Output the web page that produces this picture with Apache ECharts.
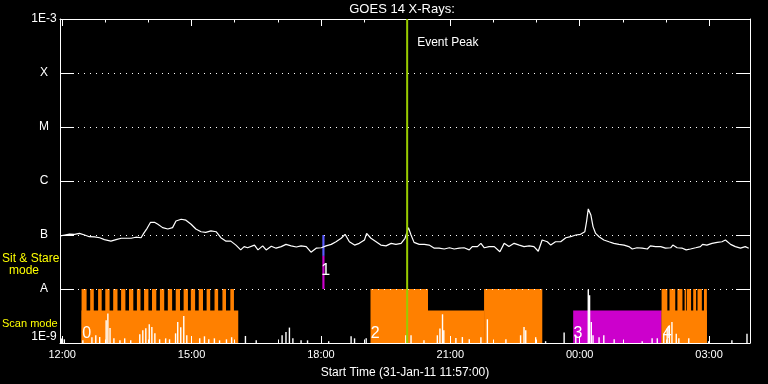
<!DOCTYPE html>
<html><head><meta charset="utf-8">
<script src="https://cdn.jsdelivr.net/npm/echarts@6/dist/echarts.min.js"></script>
<style>html,body{margin:0;padding:0;background:#000}#c{width:768px;height:384px}</style>
</head><body><div id="c"></div>
<script>
// ---------- data ----------
const chartTitle = 'GOES 14 X-Rays:';
const xAxisTitle = 'Start Time (31-Jan-11 11:57:00)';
const axisStartHour = 11.95;   // 11:57
const axisEndHour = 27.95;     // 03:57 next day
const majorTickHours = [12, 15, 18, 21, 24, 27];
const minorTickHours = [12, 13, 14, 15, 16, 17, 18, 19, 20, 21, 22, 23, 24, 25, 26, 27];
const fluxLevelLabels = {'-9': '1E-9', '-8': 'A', '-7': 'B', '-6': 'C', '-5': 'M', '-4': 'X', '-3': '1E-3'};

// GOES long channel (1-8 A), hours since 00:00 31-Jan
const longTime = [11.96,12.06,12.17,12.29,12.40,12.52,12.63,12.75,12.87,12.98,13.13,13.25,13.37,13.48,13.60,13.71,13.83,13.89,13.97,14.05,
14.14,14.22,14.33,14.45,14.56,14.64,14.76,14.87,14.99,15.10,15.22,15.33,15.45,15.57,15.68,15.80,15.91,16.03,16.14,16.22,
16.30,16.46,16.54,16.65,16.73,16.85,16.96,17.08,17.19,17.31,17.43,17.54,17.66,17.77,17.89,18.01,18.12,18.24,18.35,18.47,
18.56,18.66,18.78,18.89,19.01,19.06,19.16,19.28,19.39,19.51,19.63,19.74,19.86,19.95,20.03,20.09,20.16,20.28,20.40,20.51,
20.63,20.74,20.86,20.98,21.09,21.21,21.32,21.44,21.51,21.63,21.71,21.79,21.90,22.02,22.15,22.25,22.36,22.48,22.60,22.71,
22.83,22.94,23.04,23.13,23.25,23.33,23.44,23.56,23.68,23.79,23.91,24.02,24.12,24.16,24.20,24.26,24.31,24.37,24.45,24.56,
24.68,24.79,24.91,25.03,25.14,25.22,25.33,25.45,25.57,25.64,25.76,25.88,25.99,26.11,26.16,26.26,26.38,26.47,26.57,26.69,
26.80,26.85,26.95,27.07,27.19,27.30,27.38,27.50,27.61,27.73,27.84,27.92];
const longFlux = [9.6e-8,1.0e-7,1.04e-7,1.03e-7,1.07e-7,1.0e-7,9.3e-8,9.2e-8,8.9e-8,8.2e-8,7.7e-8,8.2e-8,8.7e-8,8.7e-8,8.7e-8,9.1e-8,8.9e-8,1.07e-7,1.33e-7,1.72e-7,
1.72e-7,1.58e-7,1.37e-7,1.29e-7,1.37e-7,1.82e-7,1.96e-7,1.88e-7,1.58e-7,1.29e-7,1.15e-7,1.12e-7,1.19e-7,1.15e-7,8.9e-8,7.7e-8,7.7e-8,6.5e-8,5.3e-8,6.1e-8,
5.8e-8,6.5e-8,5.3e-8,6.3e-8,5.3e-8,6.2e-8,5.7e-8,6.1e-8,6.7e-8,6.3e-8,6.0e-8,6.3e-8,6.1e-8,4.8e-8,5.7e-8,5.8e-8,6.3e-8,6.7e-8,7.5e-8,8.7e-8,
1.03e-7,7.5e-8,6.5e-8,7.0e-8,8.1e-8,1.07e-7,8.7e-8,7.5e-8,6.5e-8,6.3e-8,7.0e-8,6.7e-8,7.0e-8,8.7e-8,1.37e-7,1.0e-7,7.3e-8,6.7e-8,6.7e-8,6.5e-8,
5.7e-8,5.7e-8,5.5e-8,5.8e-8,5.5e-8,5.7e-8,5.8e-8,5.3e-8,6.1e-8,6.1e-8,7.0e-8,5.8e-8,6.1e-8,6.1e-8,4.9e-8,7.0e-8,6.1e-8,7.0e-8,6.5e-8,6.1e-8,
6.3e-8,6.1e-8,5.0e-8,8.1e-8,7.5e-8,6.5e-8,7.5e-8,7.5e-8,8.9e-8,9.3e-8,1.0e-7,1.03e-7,1.15e-7,1.77e-7,3.04e-7,2.35e-7,1.43e-7,1.07e-7,9.3e-8,8.1e-8,
7.5e-8,7.0e-8,6.7e-8,6.5e-8,6.1e-8,5.5e-8,5.8e-8,5.7e-8,5.5e-8,6.3e-8,6.1e-8,6.1e-8,5.7e-8,5.8e-8,6.5e-8,5.8e-8,5.7e-8,5.3e-8,5.5e-8,5.8e-8,
6.1e-8,6.7e-8,6.5e-8,7.0e-8,7.3e-8,7.5e-8,8.1e-8,6.7e-8,6.1e-8,5.7e-8,6.1e-8,5.7e-8];

// GOES short channel (0.5-4 A): only the samples rising above 1E-9
const shortTime = [11.98,12.05,12.48,12.69,12.78,12.87,13.02,13.06,13.11,13.20,13.34,13.45,13.59,13.80,13.87,13.94,14.02,14.08,14.15,14.26,
14.40,14.49,14.63,14.68,14.75,14.82,14.89,15.19,15.30,15.40,15.53,15.65,15.81,15.93,16.25,16.50,17.10,17.19,17.27,17.35,
17.54,17.69,18.18,18.70,18.78,19.05,19.97,20.09,20.39,20.70,20.76,20.82,20.85,21.13,21.28,21.44,21.71,21.86,22.29,22.63,
22.71,22.75,22.98,23.21,23.64,23.91,24.20,24.23,24.27,24.31,24.45,24.56,24.80,25.45,25.68,25.80,25.95,26.03,26.08,26.14,
26.24,26.30,26.53,26.99,27.53,27.88];
const shortFlux = [1.21e-9,1.17e-9,1.12e-9,1.28e-9,1.39e-9,1.29e-9,2.64e-9,3.51e-9,1.9e-9,1.22e-9,1.12e-9,1.22e-9,1.12e-9,1.45e-9,1.72e-9,1.87e-9,2.22e-9,1.98e-9,1.51e-9,1.17e-9,
1.22e-9,1.17e-9,1.51e-9,2.45e-9,1.96e-9,3.17e-9,1.39e-9,1.22e-9,1.33e-9,1.17e-9,1.22e-9,1.12e-9,1.17e-9,1.28e-9,1.35e-9,1.12e-9,1.39e-9,1.60e-9,1.93e-9,1.22e-9,
1.12e-9,1.12e-9,1.08e-9,1.33e-9,1.22e-9,1.22e-9,1.39e-9,1.39e-9,1.12e-9,1.39e-9,1.85e-9,3.40e-9,1.72e-9,1.24e-9,1.29e-9,1.17e-9,1.28e-9,2.75e-9,1.17e-9,1.39e-9,
1.98e-9,1.72e-9,1.28e-9,1.08e-9,1.56e-9,1.39e-9,9.8e-9,7.67e-9,2.45e-9,1.39e-9,1.28e-9,1.39e-9,1.17e-9,1.08e-9,1.22e-9,1.22e-9,1.49e-9,1.85e-9,2.13e-9,2.45e-9,
1.49e-9,1.22e-9,1.22e-9,1.08e-9,1.12e-9,1.49e-9];

// observation blocks: [start, end, low flux, high flux, kind]
const obsBlocks = [
  ['12:27','16:05',1e-9,4e-9,'scan'],
  ['12:27','12:34',1e-9,1e-8,'scan'],['12:39','12:44',1e-9,1e-8,'scan'],['12:50','12:55',1e-9,1e-8,'scan'],
  ['13:00','13:06',1e-9,1e-8,'scan'],['13:11','13:17',1e-9,1e-8,'scan'],['13:22','13:28',1e-9,1e-8,'scan'],
  ['13:33','13:39',1e-9,1e-8,'scan'],['13:44','13:49',1e-9,1e-8,'scan'],['13:54','14:00',1e-9,1e-8,'scan'],
  ['14:05','14:11',1e-9,1e-8,'scan'],['14:16','14:22',1e-9,1e-8,'scan'],['14:27','14:33',1e-9,1e-8,'scan'],
  ['14:38','14:44',1e-9,1e-8,'scan'],['14:49','14:55',1e-9,1e-8,'scan'],['14:59','15:05',1e-9,1e-8,'scan'],
  ['15:10','15:16',1e-9,1e-8,'scan'],['15:21','15:26',1e-9,1e-8,'scan'],['15:32','15:37',1e-9,1e-8,'scan'],
  ['15:43','15:48',1e-9,1e-8,'scan'],['15:54','15:59',1e-9,1e-8,'scan'],
  ['18:02','18:05',1e-8,4.1e-8,'sit'],['18:02','18:05',4.1e-8,1e-7,'blue'],
  ['19:09','20:29',1e-9,1e-8,'scan'],['20:29','21:47',1e-9,4e-9,'scan'],['21:47','23:08',1e-9,1e-8,'scan'],
  ['23:51','01:54',1e-9,4e-9,'sit'],
  ['01:54','02:57',1e-9,4e-9,'scan'],
  ['01:54','02:02',1e-9,1e-8,'scan'],['02:05','02:13',1e-9,1e-8,'scan'],['02:16','02:23',1e-9,1e-8,'scan'],
  ['02:26','02:28',1e-9,1e-8,'scan'],['02:29','02:35',1e-9,1e-8,'scan'],['02:38','02:42',1e-9,1e-8,'scan'],
  ['02:44','02:50',1e-9,1e-8,'scan'],['02:53','02:57',1e-9,1e-8,'scan']
];
const blockLabelTime = [12.57, 18.11, 19.26, 23.96, 26.03];
const blockLabelFlux = [1.5e-9, 2.15e-8, 1.5e-9, 1.5e-9, 1.5e-9];
const blockLabelText = ['0', '1', '2', '3', '4'];
const eventPeakTime = 20.0;
const eventPeakText = 'Event Peak';
const eventLabelFlux = 3.6e-4;

// ---------- chart ----------
const kindColor = {scan: '#ff8000', sit: '#cc00cc', blue: '#5a5aff'};
function toHour(s) {
  const p = s.split(':');
  let h = +p[0] + (+p[1]) / 60;
  if (h < 11) h += 24;
  return h;
}
const FONT = 'Liberation Sans, Arial, sans-serif';
const chart = echarts.init(document.getElementById('c'), null, {renderer: 'canvas'});

const grid = {left: 60, top: 19, width: 690, height: 324};
function xAx(pos, ticks, len, showLine, showLabel) {
  return {
    type: 'value', min: axisStartHour, max: axisEndHour, position: pos, z: 6,
    axisLine: {show: showLine, onZero: false, lineStyle: {color: '#fff', width: 1}},
    axisTick: {show: true, inside: true, length: len, customValues: ticks, lineStyle: {color: '#fff', width: 1}},
    axisLabel: showLabel ? {show: true, customValues: ticks, color: '#fff', fontSize: 11, fontFamily: FONT, margin: 6,
      formatter: v => String(Math.round(v) % 24).padStart(2, '0') + ':00'} : {show: false},
    splitLine: {show: false},
    name: showLabel ? xAxisTitle : '', nameLocation: 'middle', nameGap: 24,
    nameTextStyle: {color: '#fff', fontSize: 12, fontFamily: FONT}
  };
}
const option = {
  backgroundColor: '#000',
  animation: false,
  grid: grid,
  graphic: [
    {type: 'text', x: 402, y: 9, style: {text: chartTitle, fill: '#fff', font: '13px ' + FONT, align: 'center', verticalAlign: 'middle'}},
    {type: 'text', x: 2, y: 259, style: {text: 'Sit & Stare', fill: '#ffff00', font: '12px ' + FONT, align: 'left', verticalAlign: 'middle'}},
    {type: 'text', x: 24, y: 271, style: {text: 'mode', fill: '#ffff00', font: '12px ' + FONT, align: 'center', verticalAlign: 'middle'}},
    {type: 'text', x: 2, y: 324, style: {text: 'Scan mode', fill: '#ffff00', font: '11px ' + FONT, align: 'left', verticalAlign: 'middle'}}
  ],
  xAxis: [
    xAx('bottom', majorTickHours, 7, true, true),
    xAx('bottom', minorTickHours, 3.5, false, false),
    xAx('top', majorTickHours, 7, true, false),
    xAx('top', minorTickHours, 3.5, false, false)
  ],
  yAxis: [
    {type: 'log', logBase: 10, min: 1e-9, max: 1e-3, position: 'left', z: 6,
     axisLine: {show: true, lineStyle: {color: '#fff', width: 1}},
     axisTick: {show: true, inside: true, length: 14, lineStyle: {color: '#fff', width: 1}},
     axisLabel: {color: '#fff', fontSize: 12, fontFamily: FONT, margin: 16, align: 'center',
       verticalAlignMinLabel: 'bottom', verticalAlignMaxLabel: 'top',
       formatter: v => fluxLevelLabels[String(Math.round(Math.log10(v)))] || ''},
     splitLine: {show: true, lineStyle: {color: '#fff', width: 1, type: [1, 5]}}},
    {type: 'log', logBase: 10, min: 1e-9, max: 1e-3, position: 'right', z: 6,
     axisLine: {show: true, lineStyle: {color: '#fff', width: 1}},
     axisTick: {show: true, inside: true, length: 14, lineStyle: {color: '#fff', width: 1}},
     axisLabel: {show: false}, splitLine: {show: false}}
  ],
  series: [
    {
      type: 'custom', name: 'modes', z: 2, clip: true,
      data: obsBlocks.map(b => [toHour(b[0]), toHour(b[1]), b[2], b[3]]),
      renderItem: (params, api) => {
        const p0 = api.coord([api.value(0), api.value(3)]);
        const p1 = api.coord([api.value(1), api.value(2)]);
        return {type: 'rect', shape: {x: p0[0], y: p0[1], width: p1[0] - p0[0], height: p1[1] - p0[1]},
          style: {fill: kindColor[obsBlocks[params.dataIndex][4]]}};
      }
    },
    {
      type: 'custom', name: 'short', z: 3, clip: true,
      data: shortTime.map((t, i) => [t, shortFlux[i]]),
      renderItem: (params, api) => {
        const a = api.coord([api.value(0), 1e-9]);
        const b = api.coord([api.value(0), api.value(1)]);
        return {type: 'line', shape: {x1: a[0], y1: a[1], x2: b[0], y2: b[1]}, style: {stroke: '#fff', lineWidth: 1.4}};
      }
    },
    {
      type: 'line', name: 'long', z: 4, showSymbol: false, symbol: 'none',
      data: longTime.map((t, i) => [t, longFlux[i]]),
      lineStyle: {color: '#fff', width: 1.2}
    },
    {
      type: 'custom', name: 'event', z: 7, clip: true,
      data: [[eventPeakTime, eventLabelFlux]],
      renderItem: (params, api) => {
        const a = api.coord([api.value(0), 1e-9]);
        const b = api.coord([api.value(0), 1e-3]);
        const c = api.coord([api.value(0), api.value(1)]);
        return {type: 'group', children: [
          {type: 'line', shape: {x1: a[0], y1: a[1], x2: b[0], y2: b[1]}, style: {stroke: '#99cc00', lineWidth: 2}},
          {type: 'text', x: c[0] + 10, y: c[1], style: {text: eventPeakText, fill: '#fff', font: '12px ' + FONT, align: 'left', verticalAlign: 'middle'}}
        ]};
      }
    },
    {
      type: 'custom', name: 'labels', z: 8,
      data: blockLabelTime.map((t, i) => [t, blockLabelFlux[i]]),
      renderItem: (params, api) => {
        const c = api.coord([api.value(0), api.value(1)]);
        return {type: 'text', x: c[0], y: c[1], style: {text: blockLabelText[params.dataIndex], fill: '#fff',
          font: '16px ' + FONT, align: 'center', verticalAlign: 'middle'}};
      }
    }
  ]
};
chart.setOption(option);
</script></body></html>
